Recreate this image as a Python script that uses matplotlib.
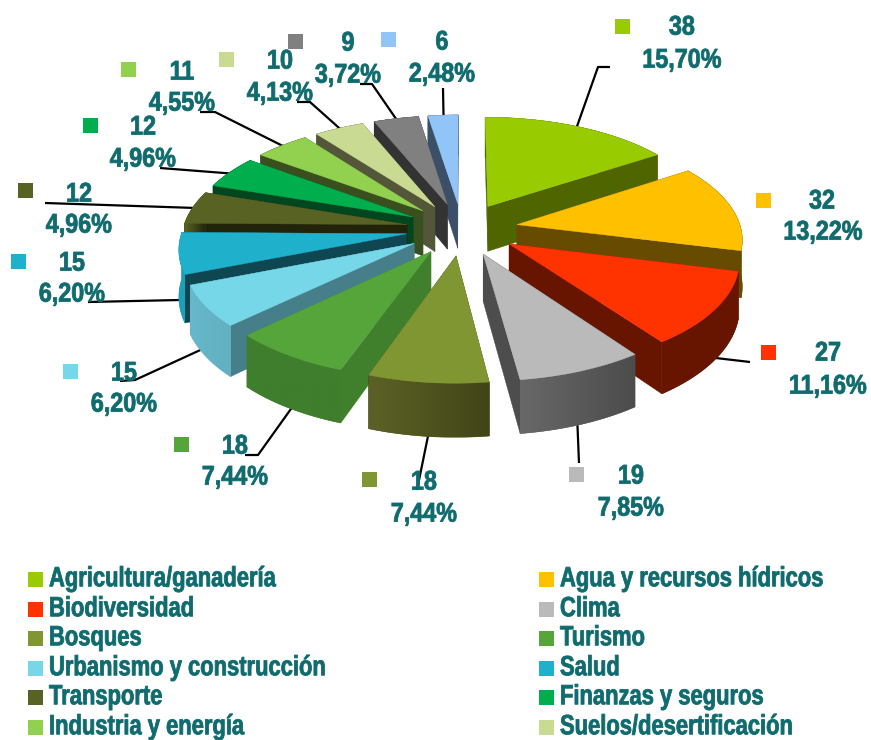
import matplotlib
matplotlib.use("Agg")
import matplotlib.pyplot as plt
from matplotlib.colors import to_rgb
from matplotlib.patches import Polygon, Rectangle
from matplotlib.patheffects import AbstractPathEffect
from matplotlib.transforms import Affine2D
import numpy as np

values = [38, 32, 27, 19, 18, 18, 15, 15, 12, 12, 11, 10, 9, 6]
percents = ["15,70%", "13,22%", "11,16%", "7,85%", "7,44%", "7,44%", "6,20%",
            "6,20%", "4,96%", "4,96%", "4,55%", "4,13%", "3,72%", "2,48%"]
legend_names = ["Agricultura/ganadería", "Agua y recursos hídricos", "Biodiversidad", "Clima",
                "Bosques", "Turismo", "Urbanismo y construcción", "Salud",
                "Transporte", "Finanzas y seguros", "Industria y energía", "Suelos/desertificación"]

top_colors = ["#99cc00", "#ffc000", "#ff3300", "#bababa", "#7f9632", "#55a53a", "#75d7e8",
              "#1fb0cc", "#586323", "#00ae4d", "#92d050", "#c9da93", "#808080", "#91c4f7"]
side_colors = ["#4f6500", "#664b00", "#671500", "#4d4d4d", "#4a4d1c", "#40802c", "#467f8a",
               "#0e4652", "#222409", "#00461f", "#3a4f1e", "#54563a", "#333333", "#3b5068"]
wall_left = ["#4f6500", "#664b00", "#671500", "#686868", "#5b6126", "#3f7e2d", "#66b8ca",
             "#1c9fba", "#586323", "#00461f", "#3a4f1e", "#54563a", "#333333", "#3b5068"]
wall_right = ["#4f6500", "#664b00", "#671500", "#4c4c4c", "#424517", "#3f7e2d", "#62b0c2",
              "#1c9fba", "#222409", "#00461f", "#3a4f1e", "#54563a", "#333333", "#3b5068"]

# label layout in pixels: square, value text, percent text
square_xy = [(622, 26), (763, 200), (768, 352), (576, 474), (369, 479), (181, 444), (70, 371),
             (18, 261), (25, 190), (90, 125), (128, 69), (226, 59), (295, 41), (388, 39)]
value_xy = [(682, 27), (822, 201), (828, 353), (631, 476), (424, 482), (235, 446), (124, 373),
            (72, 263), (79, 194), (143, 127), (182, 72), (280, 61), (348, 43), (442, 42)]
percent_xy = [(682, 60), (823, 232), (828, 386), (631, 508), (424, 514), (235, 477), (124, 404),
              (72, 294), (79, 225), (143, 159), (182, 103), (280, 93), (348, 75), (442, 74)]
# leader start points, None means the slice has no leader
leader_start = [[(610, 67), (598, 67)], None, [(750, 362)], [(579, 463)], [(417, 490)],
                [(245, 455), (258, 455)], [(120, 381), (135, 380)], [(88, 302)], [(45, 203)],
                [(160, 168)], [(200, 112), (215, 112)], [(297, 102), (310, 102)],
                [(360, 84), (372, 84)], [(443, 88)]]
leader_depth = [0, 0, 1, 1, 1, 1, 0.8, 1, 0, 0, 0, 0, 0, 0]

CX, CY = 462, 229
AX, BY = 224, 105
EXPLODE = 0.25
PERSP = 0.12
DEPTH = 46
TEAL = "#0f6b6e"
FONT = ["Liberation Sans", "DejaVu Sans"]

total = sum(values)
edges = np.concatenate([[0], np.cumsum(values)]) / total * 2 * np.pi
mids = (edges[:-1] + edges[1:]) / 2


class Tall(AbstractPathEffect):
    # no condensed font is installed, so stretch the glyphs upward when drawn
    def __init__(self, sy, weight=0.6):
        super().__init__()
        self.sy = sy
        self.weight = weight

    def draw_path(self, renderer, gc, tpath, affine, rgbFace=None):
        gc0 = renderer.new_gc()
        gc0.copy_properties(gc)
        gc0.set_foreground(rgbFace)
        gc0.set_linewidth(self.weight)
        # text path units are 100 per em, keep the middle of the caps in place
        tr = Affine2D().translate(0, -30).scale(1, self.sy).translate(0, 30) + affine
        renderer.draw_path(gc0, tpath, tr, rgbFace)
        gc0.restore()


def project(mid, theta, r=1.0, z=0.0):
    # world point of an exploded slice, near side looks bigger
    X = EXPLODE * np.sin(mid) + r * np.sin(theta)
    Y = EXPLODE * np.cos(mid) + r * np.cos(theta)
    s = 1 / (1 + PERSP * Y)
    return CX + AX * X * s, CY - BY * Y * s + DEPTH * s * z


fig = plt.figure(figsize=(8.71, 7.4), dpi=100)
ax = fig.add_axes([0, 0, 1, 1])
ax.axis("off")

# leaders go under the pie
for i, start in enumerate(leader_start):
    if start is None:
        continue
    end = project(mids[i], mids[i], 0.96, leader_depth[i])
    pts = np.array(start + [end])
    ax.plot(pts[:, 0], pts[:, 1], color="black", lw=1.6, zorder=1, solid_capstyle="butt")

order = np.argsort(-np.cos(mids))
for n, i in enumerate(order):
    z0 = 2 + n
    t = np.linspace(edges[i], edges[i + 1], 40)
    mid = mids[i]
    ax_, ay_ = project(mid, 0, 0.0, 0)
    ax2, ay2 = project(mid, 0, 0.0, 1)
    # radial faces, far one first
    far_first = sorted([edges[i], edges[i + 1]], key=lambda a: -np.cos(a))
    for a in far_first:
        ox, oy = project(mid, a)
        ox2, oy2 = project(mid, a, 1.0, 1)
        ax.fill([ax_, ox, ox2, ax2], [ay_, oy, oy2, ay2], color=side_colors[i],
                lw=0.3, zorder=z0)
    # outer wall: a gradient clipped to the wall outline
    px, py = project(mid, t)
    qx, qy = project(mid, t, 1.0, 1)
    left, right = np.array(to_rgb(wall_left[i])), np.array(to_rgb(wall_right[i]))
    outline = np.c_[np.r_[px, qx[::-1]], np.r_[py, qy[::-1]]]
    ax.fill(outline[:, 0], outline[:, 1], color=(left + right) / 2, lw=0.3, zorder=z0 + 0.1)
    clip = Polygon(outline, closed=True, transform=ax.transData)
    grad = np.linspace(left, right, 64)[np.newaxis, :, :]
    im = ax.imshow(grad, extent=(outline[:, 0].min(), outline[:, 0].max(),
                                 outline[:, 1].max(), outline[:, 1].min()),
                   aspect="auto", interpolation="bilinear", zorder=z0 + 0.2)
    im.set_clip_path(clip)
    ax.fill(np.r_[ax_, px], np.r_[ay_, py], color=top_colors[i], lw=0.3, zorder=z0 + 0.5)

# data labels
for i in range(len(values)):
    sx, sy = square_xy[i]
    ax.add_patch(Rectangle((sx - 7.5, sy - 7.5), 15, 15, color=top_colors[i], lw=0, zorder=30))
    for xy, label in ((value_xy[i], str(values[i])), (percent_xy[i], percents[i])):
        ax.text(*xy, label, color=TEAL, fontsize=16.8, fontweight="bold", family=FONT,
                ha="center", va="center", zorder=31, path_effects=[Tall(1.16)])

# legend, two columns, cut by the bottom of the picture
rows_y = [579, 609, 638, 668, 697, 727]
cols_x = [28, 539]
for k, name in enumerate(legend_names):
    x0 = cols_x[k % 2]
    y0 = rows_y[k // 2]
    ax.add_patch(Rectangle((x0, y0 - 7.5), 15, 15, color=top_colors[k], lw=0, zorder=30))
    ax.text(x0 + 21, y0, name, color=TEAL, fontsize=15.8, fontweight="bold", family=FONT,
            ha="left", va="center", zorder=31, path_effects=[Tall(1.27)])

ax.set_xlim(0, 871)
ax.set_ylim(740, 0)
fig.savefig("out.png", dpi=100)
